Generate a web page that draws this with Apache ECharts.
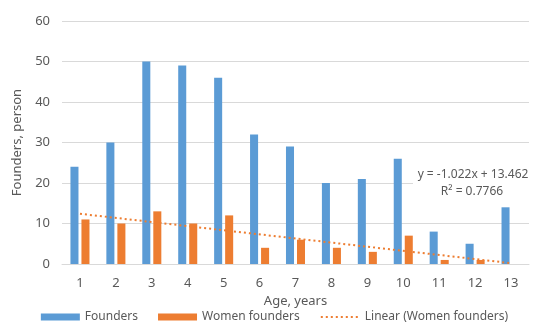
<!DOCTYPE html>
<html>
<head>
<meta charset="utf-8">
<script src="https://cdn.jsdelivr.net/npm/echarts@6/dist/echarts.min.js"></script>
<style>
html,body{margin:0;padding:0;background:#fff;}
#chart{width:549px;height:336px;}
</style>
</head>
<body>
<div id="chart"></div>
<script>
// ages (years)
var ages = ['1','2','3','4','5','6','7','8','9','10','11','12','13'];
var founders = [24, 30, 50, 49, 46, 32, 29, 20, 21, 26, 8, 5, 14];
var womenFounders = [11, 10, 13, 10, 12, 4, 6, 4, 3, 7, 1, 1, 0];
// linear trend: only the two ends
var trendWomen = [12.4, null, null, null, null, null, null, null, null, null, null, null, 0.2];
var yTicks = [0, 10, 20, 30, 40, 50, 60];

var txtColor = '#595959';
var font = 'Noto Sans';

var chart = echarts.init(document.getElementById('chart'));
var option = {
    animation: false,
    textStyle: {fontFamily: font},
    grid: {left: 62, right: 20, top: 21, bottom: 72},
    legend: {
        bottom: 8,
        left: 'center',
        itemWidth: 39,
        itemHeight: 7,
        itemGap: 20,
        textStyle: {color: txtColor, fontSize: 12, fontFamily: font},
        data: [
            {name: 'Founders', icon: 'rect'},
            {name: 'Women founders', icon: 'rect'},
            {name: 'Linear (Women founders)', itemStyle: {opacity: 0}}
        ]
    },
    xAxis: {
        type: 'category',
        data: ages,
        name: 'Age, years',
        nameLocation: 'middle',
        nameGap: 27,
        nameTextStyle: {color: txtColor, fontSize: 13},
        axisLine: {lineStyle: {color: '#d9d9d9'}},
        axisTick: {show: false},
        axisLabel: {color: txtColor, fontSize: 13, margin: 13}
    },
    yAxis: {
        type: 'value',
        min: yTicks[0],
        max: yTicks[yTicks.length - 1],
        interval: 10,
        name: 'Founders, person',
        nameLocation: 'middle',
        nameGap: 34,
        nameTextStyle: {color: txtColor, fontSize: 13},
        axisLine: {show: false},
        axisTick: {show: false},
        axisLabel: {color: txtColor, fontSize: 13, margin: 12},
        splitLine: {lineStyle: {color: '#d9d9d9'}}
    },
    series: [
        {
            name: 'Founders',
            type: 'bar',
            data: founders,
            barGap: '37%',
            barCategoryGap: '47%',
            itemStyle: {color: '#5B9BD5'}
        },
        {
            name: 'Women founders',
            type: 'bar',
            data: womenFounders,
            itemStyle: {color: '#ED7D31'}
        },
        {
            name: 'Linear (Women founders)',
            type: 'line',
            data: trendWomen,
            connectNulls: true,
            symbol: 'none',
            z: 5,
            itemStyle: {color: '#ED7D31'},
            lineStyle: {color: '#ED7D31', width: 2, type: [2, 3]}
        }
    ],
    graphic: [
        {
            type: 'rect',
            shape: {x: 413, y: 167, width: 120, height: 33},
            style: {fill: '#fff'},
            z: 3
        },
        {
            type: 'text',
            x: 473, y: 175,
            z: 4,
            style: {text: 'y = -1.022x + 13.462', fill: txtColor, font: '12px "Noto Sans"', align: 'center', verticalAlign: 'middle'}
        },
        {
            type: 'text',
            x: 472, y: 192,
            z: 4,
            style: {text: 'R\u00b2 = 0.7766', fill: txtColor, font: '12px "Noto Sans"', align: 'center', verticalAlign: 'middle'}
        }
    ]
};
chart.setOption(option);
</script>
</body>
</html>
